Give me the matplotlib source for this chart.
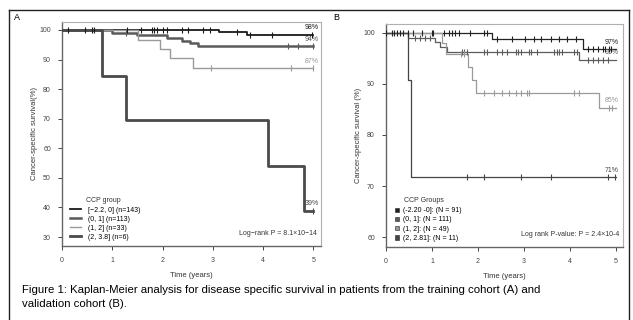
import numpy as np
import matplotlib.pyplot as plt
from matplotlib.lines import Line2D
from matplotlib.patches import Patch

plt.rcParams['font.family'] = ['Liberation Sans', 'DejaVu Sans']

# ---- Panel A (training cohort) ----
a_labels = ["[\u22122.2, 0] (n=143)", "(0, 1] (n=113)", "(1, 2] (n=33)", "(2, 3.8] (n=6)"]
a_colors = ["#1a1a1a", "#5a5a5a", "#9a9a9a", "#4a4a4a"]
a_widths = [1.3, 1.8, 1.0, 2.0]
a_event_t = [[3.13, 3.67],
             [1.0, 1.5, 2.08, 2.38, 2.55, 2.7],
             [1.51, 1.94, 2.14, 2.6],
             [0.79, 1.28, 4.09, 4.82]]
a_event_s = [[99.3, 98.4],
             [99.1, 98.2, 97.3, 96.4, 95.5, 94.5],
             [96.6, 93.5, 90.4, 87.1],
             [84.5, 69.4, 54.0, 38.9]]
a_censor = [[0.12, 0.46, 0.6, 0.64, 1.29, 1.58, 1.78, 1.83, 1.88, 2.0, 2.08,
             2.38, 2.5, 2.8, 2.94, 3.47, 3.73, 4.17, 4.98],
            [1.27, 4.5, 4.7, 5.0],
            [2.97, 4.56, 5.0],
            [5.0]]
a_pct = ["98%", "94%", "87%", "39%"]
a_pval = "Log\u2212rank P = 8.1\u00d710\u221214"

# ---- Panel B (validation cohort) ----
b_labels = ["(-2.20 -0]: (N = 91)", "(0, 1]: (N = 111)", "(1, 2]: (N = 49)", "(2, 2.81]: (N = 11)"]
b_colors = ["#222222", "#5c5c5c", "#9a9a9a", "#444444"]
b_event_t = [[2.31, 4.29],
             [0.48, 1.07, 1.18, 1.33, 4.2],
             [1.21, 1.3, 1.79, 1.87, 1.96, 4.62],
             [0.47, 0.54]]
b_event_s = [[98.8, 96.8],
             [99.1, 98.2, 97.3, 96.2, 94.7],
             [98.0, 95.8, 93.4, 90.8, 88.3, 85.3],
             [90.7, 71.7]]
b_censor = [[0.01, 0.12, 0.18, 0.23, 0.31, 0.38, 0.47, 0.58, 0.78, 1.0, 1.03,
             1.27, 1.36, 1.43, 1.51, 1.58, 1.82, 2.12, 2.2, 2.42, 2.74, 3.03,
             3.22, 3.36, 3.58, 3.76, 3.94, 4.13, 4.38, 4.49, 4.6, 4.71, 4.76,
             4.85, 4.9],
            [0.63, 0.74, 0.85, 0.96, 1.65, 1.7, 1.76, 2.12, 2.2, 2.42, 2.53, 2.63,
             2.82, 2.87, 2.93, 3.11, 3.16, 3.29, 3.65, 3.71, 3.77, 3.83, 4.09,
             4.16, 4.38, 4.49, 4.6, 4.71, 4.82],
            [1.62, 1.69, 2.12, 2.34, 2.53, 2.67, 2.82, 2.93, 3.06, 3.11, 4.09,
             4.2, 4.84, 4.91],
            [1.76, 2.12, 2.93, 3.58, 4.83, 4.98]]
b_pct = ["97%", "95%", "85%", "71%"]
b_pval = "Log rank P-value: P = 2.4\u00d710-4"

caption = ("Figure 1: Kaplan-Meier analysis for disease specific survival in patients from the training cohort (A) and\n"
           "validation cohort (B).")


def km_step(ax, ev_t, ev_s, cens, color, lw, tmax=5.0):
    t = np.concatenate([[0.0], ev_t, [tmax]])
    s = np.concatenate([[100.0], ev_s, [ev_s[-1]]])
    ax.step(t, s, where='post', color=color, lw=lw, zorder=3)
    cens = np.asarray(cens)
    idx = np.searchsorted(np.asarray(ev_t), cens, side='right')
    sc = np.concatenate([[100.0], ev_s])[idx]
    ax.plot(cens, sc, ls='none', marker='|', ms=4, mew=0.8, color=color, zorder=4)
    return s[-1]


def style_axes(ax, ylim, yticks, ylabel):
    ax.set_xlim(0, 5.15)
    ax.set_ylim(*ylim)
    ax.set_xticks(range(6))
    ax.set_yticks(yticks)
    for side in ['top', 'right']:
        ax.spines[side].set_color('#b0b0b0')
        ax.spines[side].set_linewidth(0.8)
    for side in ['left', 'bottom']:
        ax.spines[side].set_color('#666666')
        ax.spines[side].set_linewidth(1.0)
    ax.tick_params(labelsize=5, colors='#444444', length=3, width=0.7, pad=5)
    ax.set_xlabel("Time (years)", fontsize=5.5, color='#333333', labelpad=6)
    ax.set_ylabel(ylabel, fontsize=5.5, color='#333333', labelpad=1)


fig = plt.figure(figsize=(6.33, 3.2), dpi=100)

# outer frame
for xs, ys in [([9/633, 629/633], [310/320, 310/320]),
               ([9/633, 9/633], [0, 310/320]),
               ([629/633, 629/633], [0, 310/320])]:
    fig.add_artist(Line2D(xs, ys, color='#222222', lw=1.0, transform=fig.transFigure))

# Panel A
axA = fig.add_axes([62/633, 74/320, 259/633, 224/320])
for i in range(4):
    km_step(axA, a_event_t[i], a_event_s[i], a_censor[i], a_colors[i], a_widths[i])
    axA.text(4.97, a_event_s[i][-1] + 1.2, a_pct[i], fontsize=5, color=a_colors[i],
             ha='center', va='bottom')
style_axes(axA, (26.96, 102.7), range(30, 101, 10), "Cancer-specific survival(%)")
handles = [Line2D([], [], color=c, lw=w) for c, w in zip(a_colors, a_widths)]
axA.legend(handles, a_labels, loc='lower left',
           bbox_to_anchor=(0.008, -0.005), fontsize=5,
           frameon=False, handlelength=1.6, labelspacing=0.3,
           handletextpad=0.9)
fig.text(86/633, 1 - 201/320, "CCP group", fontsize=5, color='#333333',
         ha='left', va='center')
axA.text(0.985, 0.04, a_pval, transform=axA.transAxes, fontsize=5, color='#333333',
         ha='right', va='bottom')
fig.text(14/633, 1 - 18/320, "A", fontsize=6.5, ha='left', va='center')

# Panel B
axB = fig.add_axes([386/633, 73/320, 237/633, 223/320])
for i in range(4):
    km_step(axB, b_event_t[i], b_event_s[i], b_censor[i], b_colors[i], 0.9)
    axB.text(4.9, b_event_s[i][-1] + 0.7, b_pct[i], fontsize=5, color=b_colors[i],
             ha='center', va='bottom')
style_axes(axB, (58.05, 101.75), range(60, 101, 10), "Cancer-specific survival (%)")
handles = [Patch(facecolor=c, edgecolor='#222222', lw=0.4) for c in b_colors]
axB.legend(handles, b_labels, loc='lower left',
           bbox_to_anchor=(0.01, -0.005), fontsize=5,
           frameon=False, handlelength=0.6, handleheight=0.6,
           labelspacing=0.32, handletextpad=0.6)
fig.text(404/633, 1 - 201/320, "CCP Groups", fontsize=5, color='#333333',
         ha='left', va='center')
axB.text(0.985, 0.04, b_pval, transform=axB.transAxes, fontsize=5, color='#333333',
         ha='right', va='bottom')
fig.text(333/633, 1 - 18/320, "B", fontsize=6.5, ha='left', va='center')

fig.text(22/633, 1 - 285/320, caption, fontsize=8.2, ha='left', va='top',
         linespacing=1.45)

fig.savefig("out.png", dpi=100)
